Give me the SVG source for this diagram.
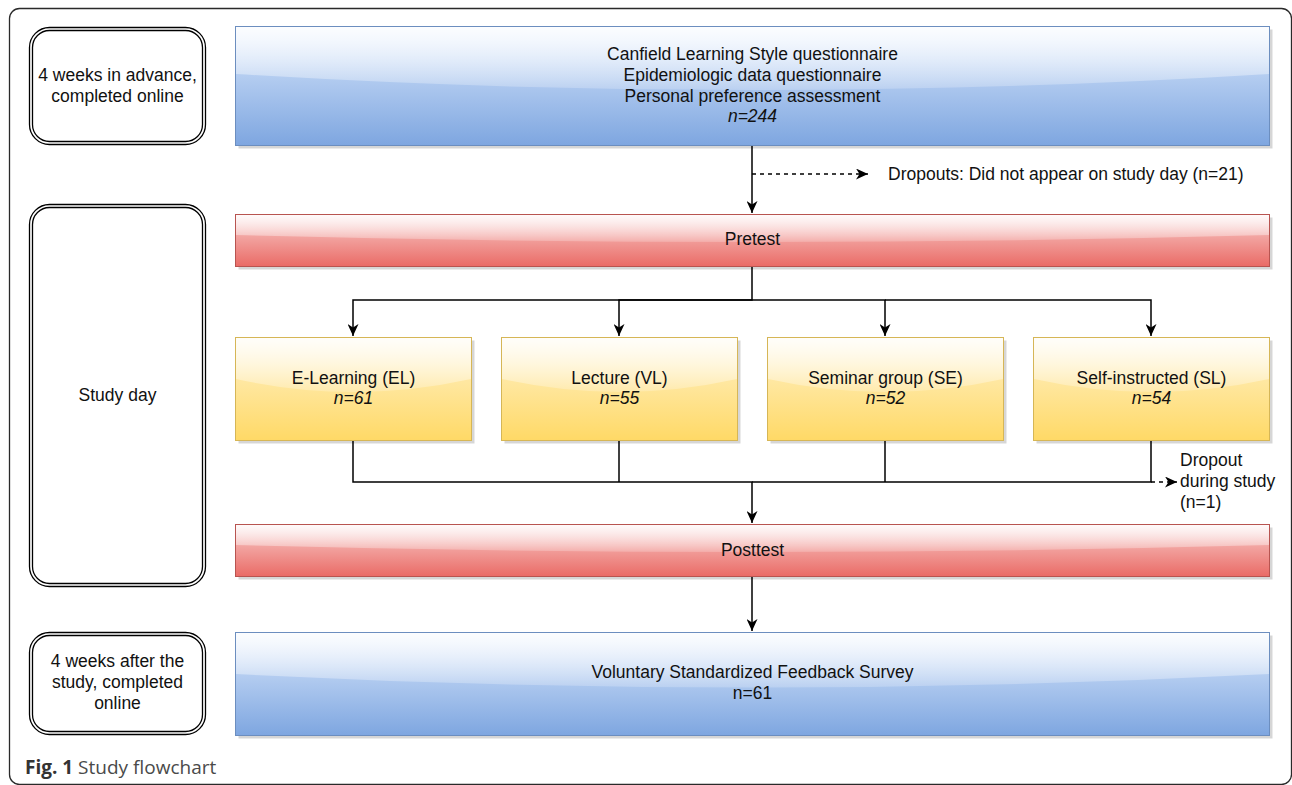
<svg xmlns="http://www.w3.org/2000/svg" width="1292" height="785" viewBox="0 0 1292 785">
<defs>
<linearGradient id="gBlue" x1="0" y1="0" x2="0" y2="1"><stop offset="0" stop-color="#dae8fc"/><stop offset="1" stop-color="#7ea6e0"/></linearGradient>
<linearGradient id="gRed" x1="0" y1="0" x2="0" y2="1"><stop offset="0" stop-color="#f8cecc"/><stop offset="1" stop-color="#ea6b66"/></linearGradient>
<linearGradient id="gYel" x1="0" y1="0" x2="0" y2="1"><stop offset="0" stop-color="#fff2cc"/><stop offset="1" stop-color="#ffd966"/></linearGradient>
<linearGradient id="gGlass" x1="0" y1="0" x2="0" y2="1"><stop offset="0" stop-color="#fff" stop-opacity="0.9"/><stop offset="1" stop-color="#fff" stop-opacity="0.2"/></linearGradient>
<marker id="arr" markerUnits="userSpaceOnUse" markerWidth="13" markerHeight="11" refX="12" refY="5.5" orient="auto" viewBox="0 0 13 11">
<path d="M0,0 L12,5.5 L0,11 L3.5,5.5 Z" fill="#000"/>
</marker>
</defs>
<style>
text{font-family:"Liberation Sans",Arial,Helvetica,sans-serif;font-size:17.5px;fill:#111}
.c{text-anchor:middle}
.i{font-style:italic}
.sh{fill:#000;opacity:0.16}
.blue{fill:url(#gBlue);stroke:#6c8ebf;stroke-width:1}
.red{fill:url(#gRed);stroke:#b85450;stroke-width:1}
.yel{fill:url(#gYel);stroke:#d6b656;stroke-width:1}
.glass{fill:url(#gGlass)}
.dbl{fill:#fff;stroke:#000;stroke-width:1.3}
.ln{fill:none;stroke:#000;stroke-width:1.5}
.dash{stroke-dasharray:4 4}
.cap{font-family:"Open Sans","Liberation Sans",sans-serif;font-size:19px;fill:#4a4a4a}
</style>
<rect x="9.5" y="8.5" width="1282" height="776" rx="10" fill="#fff" stroke="#2a2a2a" stroke-width="1.3"/>

<g id="left1">
<rect class="dbl" x="29.5" y="27.5" width="176" height="117" rx="20"/>
<rect class="dbl" x="32.5" y="30.5" width="170" height="111" rx="17"/>
<text class="c" x="117.5" y="81">4 weeks in advance,</text>
<text class="c" x="117.5" y="101.5">completed online</text>
</g>
<g id="left2">
<rect class="dbl" x="29.5" y="204.5" width="176" height="382" rx="20"/>
<rect class="dbl" x="32.5" y="207.5" width="170" height="376" rx="17"/>
<text class="c" x="117.5" y="401">Study day</text>
</g>
<g id="left3">
<rect class="dbl" x="29.5" y="632.5" width="176" height="102" rx="20"/>
<rect class="dbl" x="32.5" y="635.5" width="170" height="96" rx="17"/>
<text class="c" x="117.5" y="667">4 weeks after the</text>
<text class="c" x="117.5" y="688">study, completed</text>
<text class="c" x="117.5" y="708.5">online</text>
</g>

<g id="questionnaires">
<rect class="sh" x="238.5" y="29.5" width="1034" height="119"/>
<rect class="blue" x="235.5" y="26.5" width="1034" height="119"/>
<path class="glass" d="M236,27 L236,74 Q752.5,106 1269,74 L1269,27 Z"/>
<text class="c" x="752.5" y="60">Canfield Learning Style questionnaire</text>
<text class="c" x="752.5" y="81">Epidemiologic data questionnaire</text>
<text class="c" x="752.5" y="101.5">Personal preference assessment</text>
<text class="c i" x="752.5" y="122">n=244</text>
</g>

<g id="pretest">
<rect class="sh" x="238.5" y="217.5" width="1034" height="52"/>
<rect class="red" x="235.5" y="214.5" width="1034" height="52"/>
<path class="glass" d="M236,215 L236,235 Q752.5,249 1269,235 L1269,215 Z"/>
<text class="c" x="752.5" y="245">Pretest</text>
</g>

<g id="el">
<rect class="sh" x="238.5" y="340.5" width="236" height="103"/>
<rect class="yel" x="235.5" y="337.5" width="236" height="103"/>
<path class="glass" d="M236,338 L236,379 Q353.5,405 471,379 L471,338 Z"/>
<text class="c" x="353.5" y="384">E-Learning (EL)</text>
<text class="c i" x="353.5" y="404">n=61</text>
</g>
<g id="vl">
<rect class="sh" x="504.5" y="340.5" width="236" height="103"/>
<rect class="yel" x="501.5" y="337.5" width="236" height="103"/>
<path class="glass" d="M502,338 L502,379 Q619.5,405 737,379 L737,338 Z"/>
<text class="c" x="619.5" y="384">Lecture (VL)</text>
<text class="c i" x="619.5" y="404">n=55</text>
</g>
<g id="se">
<rect class="sh" x="770.5" y="340.5" width="236" height="103"/>
<rect class="yel" x="767.5" y="337.5" width="236" height="103"/>
<path class="glass" d="M768,338 L768,379 Q885.5,405 1003,379 L1003,338 Z"/>
<text class="c" x="885.5" y="384">Seminar group (SE)</text>
<text class="c i" x="885.5" y="404">n=52</text>
</g>
<g id="sl">
<rect class="sh" x="1036.5" y="340.5" width="236" height="103"/>
<rect class="yel" x="1033.5" y="337.5" width="236" height="103"/>
<path class="glass" d="M1034,338 L1034,379 Q1151.5,405 1269,379 L1269,338 Z"/>
<text class="c" x="1151.5" y="384">Self-instructed (SL)</text>
<text class="c i" x="1151.5" y="404">n=54</text>
</g>

<g id="posttest">
<rect class="sh" x="238.5" y="527.5" width="1034" height="52"/>
<rect class="red" x="235.5" y="524.5" width="1034" height="52"/>
<path class="glass" d="M236,525 L236,545 Q752.5,559 1269,545 L1269,525 Z"/>
<text class="c" x="752.5" y="556">Posttest</text>
</g>

<g id="survey">
<rect class="sh" x="238.5" y="635.5" width="1034" height="103"/>
<rect class="blue" x="235.5" y="632.5" width="1034" height="103"/>
<path class="glass" d="M236,633 L236,674 Q752.5,701 1269,674 L1269,633 Z"/>
<text class="c" x="752.5" y="678">Voluntary Standardized Feedback Survey</text>
<text class="c" x="752.5" y="699">n=61</text>
</g>

<g id="connectors">
<path class="ln" d="M752,146 V213" marker-end="url(#arr)"/>
<path class="ln dash" d="M752,174 H868" marker-end="url(#arr)"/>
<path class="ln" d="M752,267 V300 H353 V336" marker-end="url(#arr)"/>
<path class="ln" d="M752,300 H619 V336" marker-end="url(#arr)"/>
<path class="ln" d="M752,300 H885 V336" marker-end="url(#arr)"/>
<path class="ln" d="M885,300 H1151 V336" marker-end="url(#arr)"/>
<path class="ln" d="M353,441 V482 H752 V523" marker-end="url(#arr)"/>
<path class="ln" d="M619,441 V482"/>
<path class="ln" d="M1151,441 V482 H752"/>
<path class="ln" d="M885,441 V482"/>
<path class="ln dash" d="M1151,482 H1177" marker-end="url(#arr)"/>
<path class="ln" d="M752,577 V631" marker-end="url(#arr)"/>
</g>

<g id="labels">
<text x="888" y="180">Dropouts: Did not appear on study day (n=21)</text>
<text x="1180" y="466">Dropout</text>
<text x="1180" y="487">during study</text>
<text x="1180" y="507.5">(n=1)</text>
</g>

<text class="cap" x="25" y="774"><tspan font-weight="bold" fill="#333">Fig. 1</tspan> Study flowchart</text>
</svg>
